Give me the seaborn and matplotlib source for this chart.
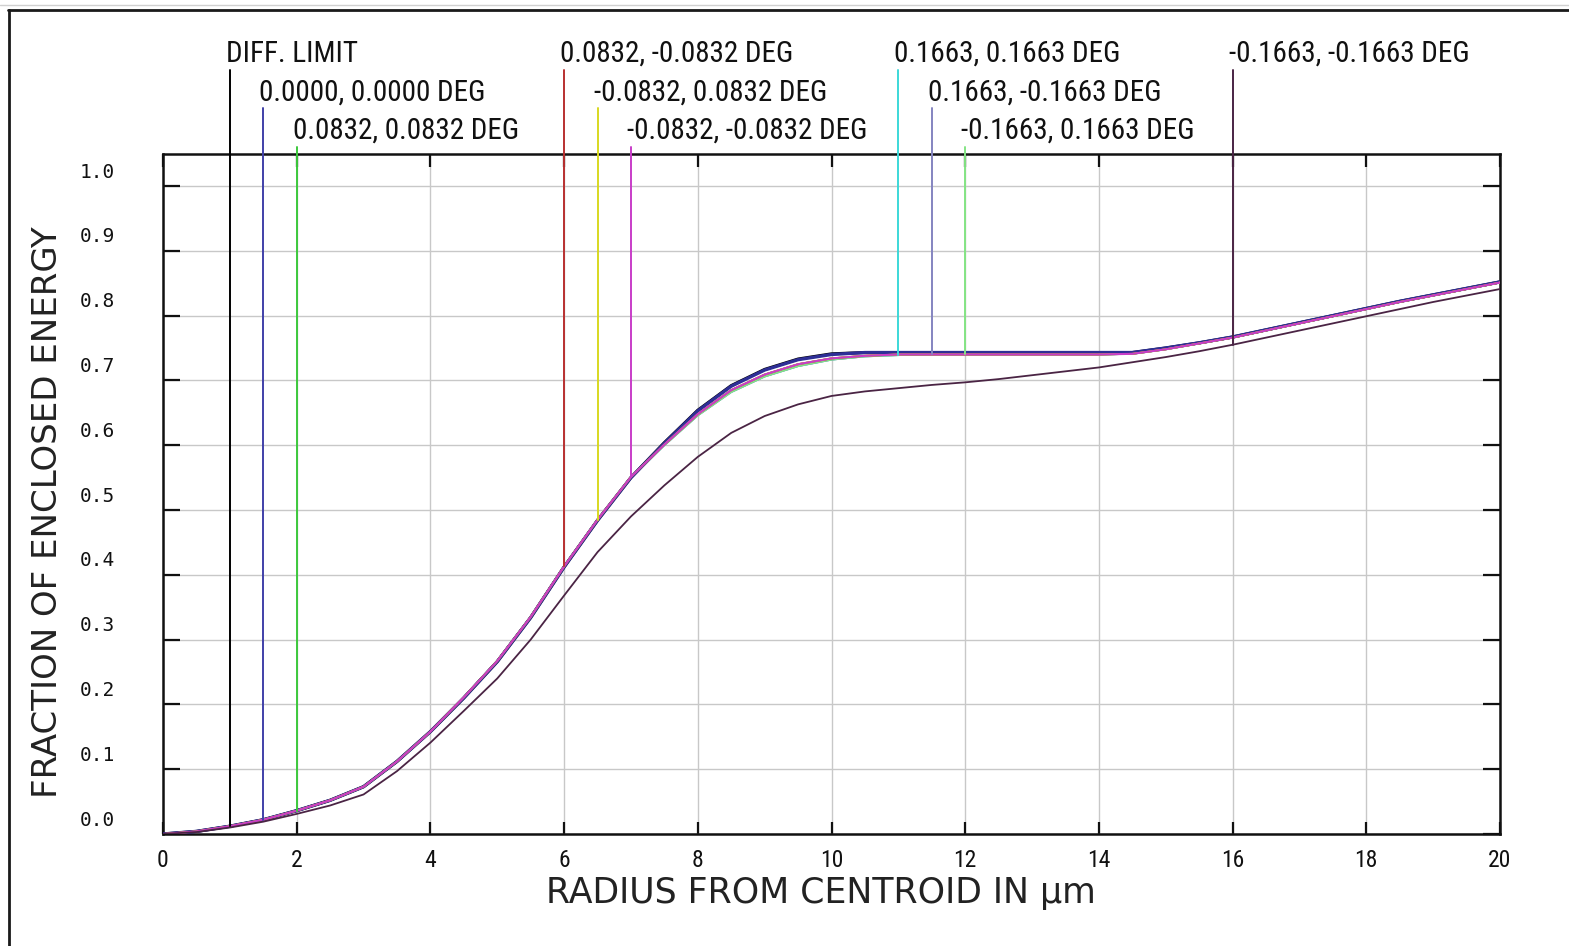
import numpy as np
import pandas as pd
import matplotlib
matplotlib.use("Agg")
import matplotlib.pyplot as plt
from matplotlib import font_manager
from matplotlib.transforms import ScaledTranslation, offset_copy
from matplotlib.lines import Line2D
import seaborn as sns

# ---------------------------------------------------------------------------
# Encircled energy data: radius from centroid (µm) and fraction of energy
# ---------------------------------------------------------------------------
radius = [0.0, 0.5, 1.0, 1.5, 2.0, 2.5, 3.0, 3.5, 4.0, 4.5,
          5.0, 5.5, 6.0, 6.5, 7.0, 7.5, 8.0, 8.5, 9.0, 9.5,
          10.0, 10.5, 11.0, 11.5, 12.0, 12.5, 13.0, 13.5, 14.0, 14.5,
          15.0, 15.5, 16.0, 16.5, 17.0, 17.5, 18.0, 18.5, 19.0, 19.5, 20.0]

ee_diff_limit = [0.000, 0.004, 0.012, 0.022, 0.036, 0.052, 0.073, 0.112, 0.158, 0.210,
                 0.266, 0.334, 0.412, 0.484, 0.550, 0.604, 0.654, 0.692, 0.717, 0.733,
                 0.741, 0.743, 0.743, 0.743, 0.743, 0.743, 0.743, 0.743, 0.743, 0.743,
                 0.750, 0.758, 0.767, 0.778, 0.789, 0.800, 0.811, 0.822, 0.832, 0.842, 0.852]

ee_on_axis = [0.000, 0.004, 0.012, 0.022, 0.036, 0.052, 0.073, 0.112, 0.158, 0.210,
              0.266, 0.334, 0.412, 0.484, 0.550, 0.603, 0.653, 0.691, 0.716, 0.732,
              0.740, 0.743, 0.743, 0.743, 0.743, 0.743, 0.743, 0.743, 0.743, 0.743,
              0.750, 0.758, 0.767, 0.778, 0.789, 0.800, 0.811, 0.822, 0.832, 0.842, 0.852]

ee_field_0832 = [0.000, 0.004, 0.012, 0.022, 0.036, 0.052, 0.073, 0.112, 0.158, 0.211,
                 0.267, 0.335, 0.413, 0.485, 0.551, 0.601, 0.648, 0.685, 0.709, 0.725,
                 0.734, 0.738, 0.740, 0.740, 0.740, 0.740, 0.740, 0.740, 0.740, 0.741,
                 0.748, 0.757, 0.766, 0.777, 0.788, 0.799, 0.810, 0.821, 0.831, 0.841, 0.851]

ee_field_1663 = [0.000, 0.004, 0.012, 0.022, 0.036, 0.052, 0.073, 0.112, 0.158, 0.211,
                 0.267, 0.335, 0.413, 0.485, 0.550, 0.600, 0.646, 0.682, 0.706, 0.722,
                 0.732, 0.737, 0.739, 0.740, 0.740, 0.740, 0.740, 0.740, 0.740, 0.741,
                 0.748, 0.757, 0.766, 0.777, 0.788, 0.799, 0.810, 0.821, 0.831, 0.841, 0.851]

ee_field_corner = [0.000, 0.003, 0.010, 0.019, 0.031, 0.044, 0.061, 0.097, 0.141, 0.190,
                   0.240, 0.300, 0.368, 0.435, 0.490, 0.538, 0.582, 0.619, 0.645, 0.663,
                   0.676, 0.683, 0.688, 0.693, 0.697, 0.702, 0.708, 0.714, 0.720, 0.728,
                   0.736, 0.745, 0.755, 0.766, 0.777, 0.788, 0.799, 0.810, 0.821, 0.831, 0.841]

series_labels = ["DIFF. LIMIT",
                 "0.0000, 0.0000 DEG",
                 "0.0832, 0.0832 DEG",
                 "0.0832, -0.0832 DEG",
                 "-0.0832, 0.0832 DEG",
                 "-0.0832, -0.0832 DEG",
                 "0.1663, 0.1663 DEG",
                 "0.1663, -0.1663 DEG",
                 "-0.1663, 0.1663 DEG",
                 "-0.1663, -0.1663 DEG"]

series_values = [ee_diff_limit, ee_on_axis,
                 ee_field_0832, ee_field_0832, ee_field_0832, ee_field_0832,
                 ee_field_1663, ee_field_1663, ee_field_1663,
                 ee_field_corner]

# radius at which each series' label leader touches its curve
leader_radius = [1.0, 1.5, 2.0, 6.0, 6.5, 7.0, 11.0, 11.5, 12.0, 16.0]

x_ticks = [0, 2, 4, 6, 8, 10, 12, 14, 16, 18, 20]
y_ticks = [0.0, 0.1, 0.2, 0.3, 0.4, 0.5, 0.6, 0.7, 0.8, 0.9, 1.0]

# ---------------------------------------------------------------------------
# Styling
# ---------------------------------------------------------------------------
series_colors = ["#000000", "#2e2e96", "#3cc83c", "#b83030", "#d8d820",
                 "#c83cc8", "#3cd8d8", "#8484c0", "#84e484", "#4a2444"]
series_lw = [2.2, 2.4, 1.3, 1.3, 1.3, 1.5, 1.3, 1.3, 1.3, 1.3]
series_z = [3.1, 3.2, 4.0, 4.1, 4.2, 4.5, 2.5, 2.6, 2.7, 5.0]
label_row = [0, 1, 2, 0, 1, 2, 0, 1, 2, 0]

W, H = 1569, 946
AX_L, AX_R, AX_T, AX_B = 163, 1500, 154, 834
Y_MAX = (AX_B - AX_T) / 648.0


def px_to_data_y(py):
    return (AX_B - py) / 648.0


row_baseline_px = [62, 101, 139]
row_leader_top_px = [70, 108, 147]

sns.set_theme(style="white")
installed = {f.name for f in font_manager.fontManager.ttflist}
narrow = next((f for f in ["Liberation Sans Narrow", "Roboto Condensed", "DejaVu Sans"]
               if f in installed), "DejaVu Sans")
plt.rcParams["font.family"] = ["DejaVu Sans"]

fig = plt.figure(figsize=(W / 100, H / 100), dpi=100)
fig.patch.set_facecolor("white")
ax = fig.add_axes([AX_L / W, (H - AX_B) / H, (AX_R - AX_L) / W, (AX_B - AX_T) / H])
ax.set_facecolor("white")

# curves
for lab, vals, col, lw, z in zip(series_labels, series_values, series_colors,
                                 series_lw, series_z):
    df = pd.DataFrame({"r": radius, "ee": vals})
    sns.lineplot(data=df, x="r", y="ee", color=col, lw=lw, zorder=z, ax=ax,
                 errorbar=None, legend=False)

# leader lines and labels above the plot
for lab, vals, col, r0, row in zip(series_labels, series_values, series_colors,
                                   leader_radius, label_row):
    y_end = float(np.interp(r0, radius, vals))
    y_top = px_to_data_y(row_leader_top_px[row])
    lead_col = "#4040a8" if col == "#2e2e96" else col
    ax.plot([r0, r0], [y_end, y_top], color=lead_col, lw=1.4, clip_on=False, zorder=6)
    trans = offset_copy(ax.transData, fig=fig, x=-4, y=0, units="dots")
    ax.text(r0, px_to_data_y(row_baseline_px[row]), lab, transform=trans,
            ha="left", va="baseline", fontsize=21, family=[narrow, "DejaVu Sans"],
            color="#111111", clip_on=False)

ax.set_xlim(0, 20)
ax.set_ylim(0, Y_MAX)
ax.set_xticks(x_ticks)
ax.set_xticklabels([str(t) for t in x_ticks], family=[narrow, "DejaVu Sans"],
                   fontsize=17, color="#111111")
ax.set_yticks(y_ticks)
ax.set_yticklabels([f"{t:.1f}" for t in y_ticks], family=["DejaVu Sans Mono"],
                   fontsize=14, color="#111111")
ax.set_xlabel("")
ax.set_ylabel("")

ax.grid(True, color="#c8c8c8", lw=1.0)
ax.set_axisbelow(True)
ax.tick_params(axis="y", which="major", direction="in", length=12, width=1.6,
               left=True, right=True, pad=34.5, color="#111111")
ax.tick_params(axis="x", which="major", direction="in", length=9, width=1.6,
               top=True, bottom=True, pad=10.5, color="#111111")
for lbl in ax.get_yticklabels():
    lbl.set_transform(lbl.get_transform() + ScaledTranslation(0, 16 / 100, fig.dpi_scale_trans))
for sp in ax.spines.values():
    sp.set_color("#111111")
    sp.set_linewidth(1.8)

fig.text(48 / W, 1 - 512 / H, "FRACTION OF ENCLOSED ENERGY", rotation=90,
         ha="center", va="center", fontsize=24.5, color="#222222")
fig.text(821 / W, 1 - 893 / H, "RADIUS FROM CENTROID IN µm",
         ha="center", va="center", fontsize=25, color="#222222")

# outer frame of the page
fig.add_artist(Line2D([0, 1], [1 - 5 / H, 1 - 5 / H], transform=fig.transFigure,
                      color="#d0d0d0", lw=1.0))
fig.add_artist(Line2D([8 / W, 1], [1 - 10 / H, 1 - 10 / H], transform=fig.transFigure,
                      color="#1a1a1a", lw=2.0))
fig.add_artist(Line2D([8.5 / W, 8.5 / W], [0, 1 - 10 / H], transform=fig.transFigure,
                      color="#1a1a1a", lw=2.0))

fig.savefig("out.png", dpi=100)
